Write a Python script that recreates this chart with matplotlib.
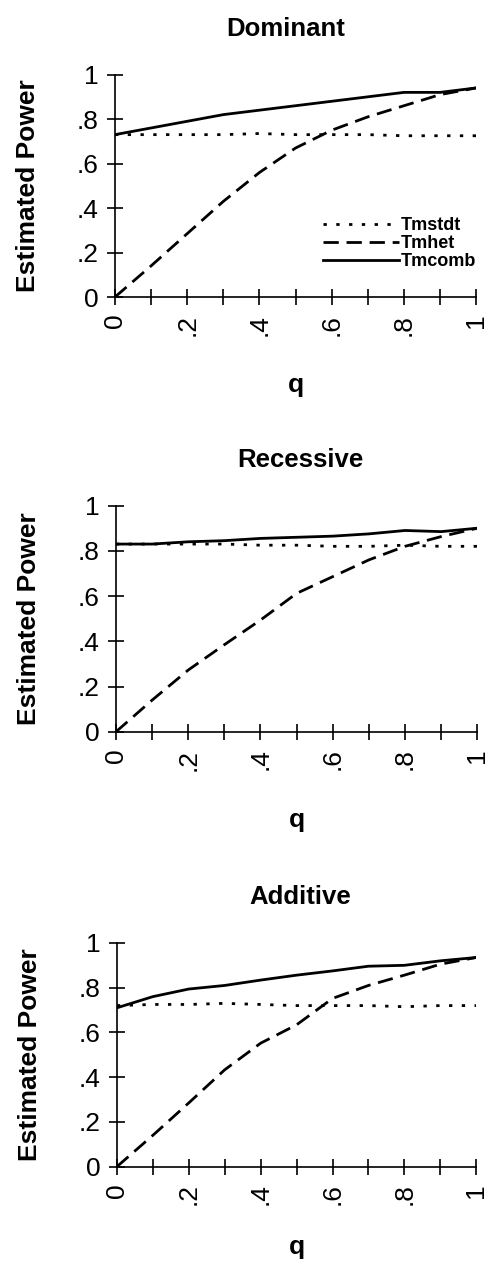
import matplotlib.pyplot as plt

plt.rcParams['font.family'] = ['Liberation Sans', 'DejaVu Sans']

q = [0.0, 0.1, 0.2, 0.3, 0.4, 0.5, 0.6, 0.7, 0.8, 0.9, 1.0]

titles = ['Dominant', 'Recessive', 'Additive']

tmstdt = [
    [0.73, 0.73, 0.73, 0.73, 0.735, 0.73, 0.73, 0.73, 0.725, 0.725, 0.725],
    [0.83, 0.83, 0.83, 0.83, 0.825, 0.825, 0.82, 0.82, 0.825, 0.82, 0.82],
    [0.72, 0.725, 0.725, 0.73, 0.725, 0.72, 0.72, 0.72, 0.715, 0.72, 0.72],
]
tmhet = [
    [0.0, 0.14, 0.285, 0.43, 0.56, 0.67, 0.75, 0.81, 0.86, 0.91, 0.94],
    [0.0, 0.14, 0.273, 0.385, 0.494, 0.612, 0.686, 0.76, 0.82, 0.863, 0.90],
    [0.0, 0.14, 0.285, 0.433, 0.552, 0.634, 0.752, 0.81, 0.856, 0.905, 0.935],
]
tmcomb = [
    [0.73, 0.76, 0.79, 0.82, 0.84, 0.86, 0.88, 0.90, 0.92, 0.92, 0.94],
    [0.83, 0.83, 0.84, 0.845, 0.855, 0.86, 0.865, 0.875, 0.89, 0.885, 0.90],
    [0.71, 0.76, 0.794, 0.81, 0.834, 0.856, 0.875, 0.896, 0.90, 0.92, 0.935],
]

ytick_vals = [0, 0.2, 0.4, 0.6, 0.8, 1.0]
ytick_labels = ['0', '.2', '.4', '.6', '.8', '1']
xtick_labels = ['0', '.2', '.4', '.6', '.8', '1']

fig = plt.figure(figsize=(4.87, 12.64), dpi=100)

# [left, bottom, width, height] per panel
positions = [
    [0.236, 0.765, 0.742, 0.176],
    [0.238, 0.421, 0.742, 0.179],
    [0.240, 0.077, 0.738, 0.177],
]
title_x = [0.473, 0.51, 0.51]
q_pad = [27, 27, 21]

for i in range(3):
    ax = fig.add_axes(positions[i])
    ax.plot(q, tmstdt[i], color='black', lw=2.0, linestyle=(0, (1.2, 3.4)), label='Tmstdt')
    ax.plot(q, tmhet[i], color='black', lw=2.0, linestyle=(0, (5.5, 2.8)), label='Tmhet')
    ax.plot(q, tmcomb[i], color='black', lw=2.0, linestyle='-', label='Tmcomb')

    ax.set_xlim(0, 1)
    ax.set_ylim(0, 1)
    ax.spines['top'].set_visible(False)
    ax.spines['right'].set_visible(False)
    ax.spines['left'].set_linewidth(1.2)
    ax.spines['bottom'].set_linewidth(1.2)

    ax.set_yticks(ytick_vals)
    ax.set_yticklabels(ytick_labels, fontsize=19)
    ax.set_xticks([x / 10 for x in range(11)])
    ax.set_xticklabels([xtick_labels[k // 2] if k % 2 == 0 else '' for k in range(11)],
                       fontsize=19, rotation=90)
    ax.tick_params(axis='both', direction='inout', length=12, width=1.2, colors='black')
    ax.tick_params(axis='x', pad=6)
    ax.tick_params(axis='y', pad=6)

    ax.set_title(titles[i], fontsize=18.5, fontweight='bold', pad=28, x=title_x[i])
    ax.set_ylabel('Estimated Power', fontsize=19, fontweight='bold', labelpad=26)
    ax.set_xlabel('q', fontsize=19, fontweight='bold', labelpad=q_pad[i])

    if i == 0:
        ax.legend(loc='lower right', bbox_to_anchor=(1.025, 0.08), frameon=False,
                  prop={'size': 13, 'weight': 'bold'}, handlelength=4.2,
                  handletextpad=0.1, labelspacing=0.05, borderpad=0)

fig.savefig('out.png', dpi=100)
